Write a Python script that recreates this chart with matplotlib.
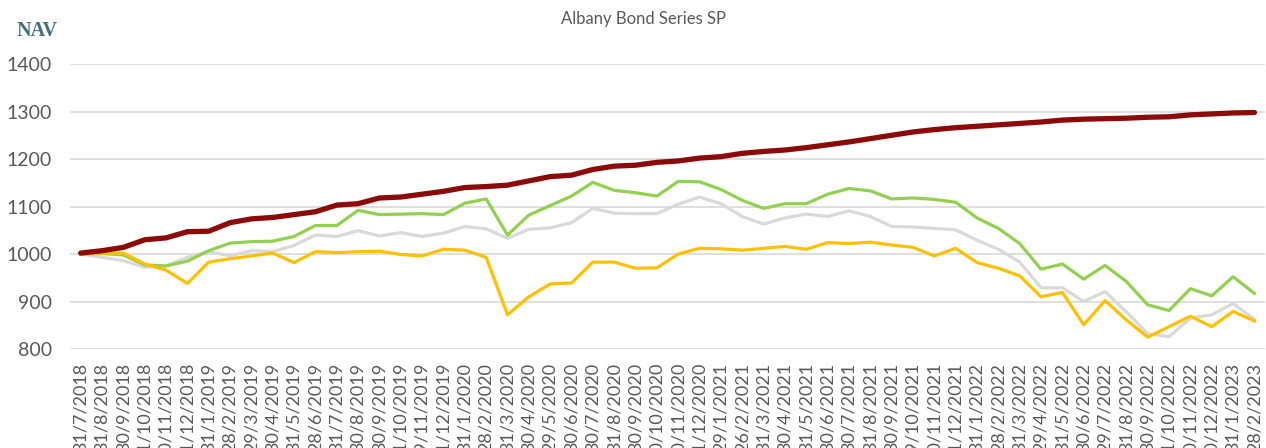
import matplotlib
matplotlib.use("Agg")
import matplotlib.pyplot as plt
import numpy as np

dates = ["31/7/2018", "31/8/2018", "30/9/2018", "31/10/2018", "30/11/2018", "31/12/2018",
         "31/1/2019", "28/2/2019", "29/3/2019", "30/4/2019", "31/5/2019", "28/6/2019",
         "31/7/2019", "30/8/2019", "30/9/2019", "31/10/2019", "29/11/2019", "31/12/2019",
         "31/1/2020", "28/2/2020", "31/3/2020", "30/4/2020", "29/5/2020", "30/6/2020",
         "30/7/2020", "31/8/2020", "30/9/2020", "30/10/2020", "30/11/2020", "31/12/2020",
         "29/1/2021", "26/2/2021", "31/3/2021", "30/4/2021", "31/5/2021", "30/6/2021",
         "30/7/2021", "31/8/2021", "30/9/2021", "29/10/2021", "30/11/2021", "31/12/2021",
         "31/1/2022", "28/2/2022", "31/3/2022", "29/4/2022", "31/5/2022", "30/6/2022",
         "29/7/2022", "31/8/2022", "30/9/2022", "31/10/2022", "30/11/2022", "30/12/2022",
         "31/1/2023", "28/2/2023"]

albany = [1002, 1007, 1014, 1030, 1034, 1047, 1048, 1066, 1074, 1077, 1083, 1089,
          1103, 1106, 1118, 1120, 1126, 1132, 1140, 1142, 1145, 1154, 1163, 1166,
          1178, 1185, 1187, 1193, 1196, 1202, 1205, 1212, 1216, 1219, 1224, 1230,
          1236, 1243, 1250, 1257, 1262, 1266, 1269, 1272, 1275, 1278, 1282, 1284,
          1285, 1286, 1288, 1289, 1293, 1295, 1297, 1298]

green = [1000, 1001, 998, 977, 975, 985, 1007, 1023, 1026, 1027, 1037, 1060,
         1060, 1092, 1083, 1084, 1085, 1083, 1107, 1116, 1040, 1082, 1102, 1122,
         1151, 1134, 1129, 1122, 1153, 1152, 1136, 1113, 1096, 1106, 1106, 1126,
         1138, 1133, 1116, 1118, 1115, 1109, 1076, 1054, 1022, 968, 979, 947,
         976, 942, 893, 881, 927, 912, 952, 917]

grey = [1000, 993, 986, 972, 975, 993, 1005, 996, 1007, 1005, 1018, 1040,
        1037, 1049, 1038, 1045, 1037, 1044, 1058, 1053, 1033, 1052, 1055, 1066,
        1096, 1086, 1085, 1085, 1105, 1120, 1106, 1079, 1063, 1076, 1084, 1079,
        1091, 1079, 1058, 1057, 1054, 1051, 1029, 1010, 983, 929, 929, 900,
        921, 878, 832, 826, 865, 872, 896, 862]

orange = [1000, 1002, 1002, 979, 966, 938, 983, 990, 996, 1002, 982, 1005,
          1003, 1005, 1006, 999, 996, 1010, 1008, 993, 872, 910, 937, 939,
          983, 983, 970, 971, 1000, 1012, 1011, 1008, 1012, 1016, 1010, 1024,
          1022, 1025, 1019, 1014, 996, 1012, 982, 970, 954, 910, 919, 851,
          902, 861, 825, 847, 869, 847, 879, 859]

plt.rcParams['font.family'] = ['Lato', 'DejaVu Sans']

fig = plt.figure(figsize=(12.66, 4.48), dpi=100)
ax = fig.add_axes([0.0553, 0.221, 0.944, 0.636])

x = np.arange(len(dates))
ax.plot(x, grey, color="#d9d9d9", lw=2.3, solid_joinstyle="round")
ax.plot(x, green, color="#92d050", lw=2.3, solid_joinstyle="round")
ax.plot(x, orange, color="#ffc000", lw=2.3, solid_joinstyle="round")
ax.plot(x, albany, color="#8b0a0a", lw=3.8, solid_joinstyle="round", solid_capstyle="round")

ax.set_xlim(-0.5, len(dates) - 0.5)
ax.set_ylim(800, 1400)
ax.set_yticks(range(800, 1401, 100))
ax.set_xticks(x)
# the reference also lets the long date labels run off the bottom edge
ax.set_xticklabels(dates, rotation=90, va="top", ha="center")
ax.tick_params(axis="both", length=0, labelsize=13, colors="#595959")
ax.tick_params(axis="y", labelsize=14, pad=13)
ax.tick_params(axis="x", pad=10)
ax.grid(axis="y", color="#d9d9d9", lw=1.2)
ax.set_axisbelow(True)
for s in ax.spines.values():
    s.set_visible(False)

fig.text(0.508, 0.957, "Albany Bond Series SP", ha="center", va="center",
         fontsize=12, color="#595959")
fig.text(0.029, 0.93, "NAV", ha="center", va="center", fontsize=14.5,
         fontweight="bold", family=["Liberation Serif"], color="#44707a")

fig.savefig("out.png", dpi=100)
